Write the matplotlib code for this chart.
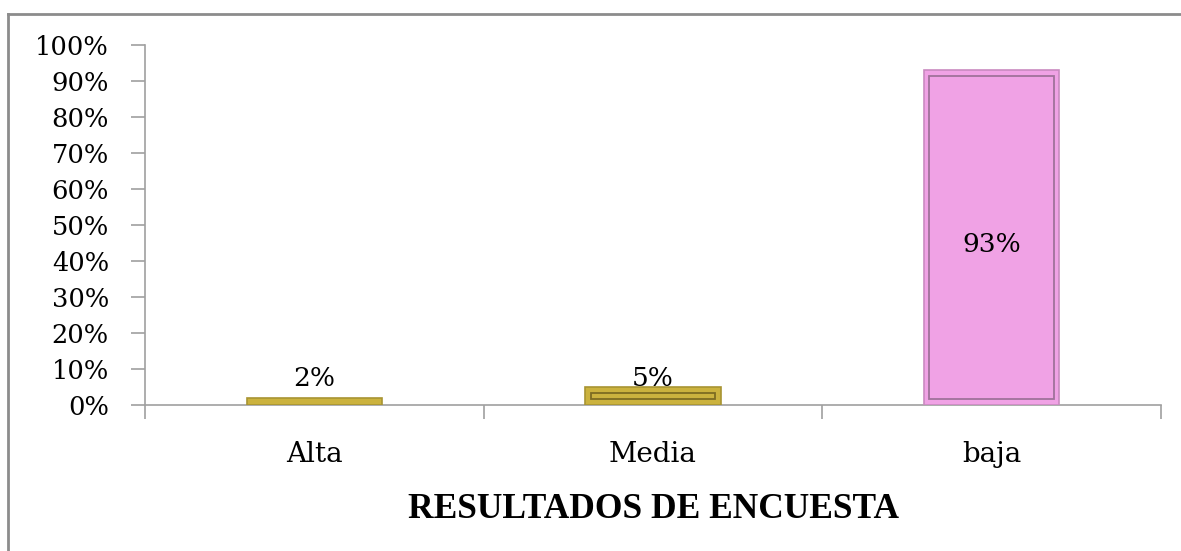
import matplotlib.pyplot as plt
from matplotlib.lines import Line2D

categories = ['Alta', 'Media', 'baja']
values = [0.02, 0.05, 0.93]
labels = ['2%', '5%', '93%']
fills = ['#CBB23E', '#CBB23E', '#F0A2E5']
edges = ['#A89432', '#A89432', '#C98AC0']
inner_edges = ['#7D6C22', '#7D6C22', '#A0729A']
yticks = [i / 10 for i in range(11)]

plt.rcParams['font.family'] = ['DejaVu Serif']

W, H = 1181, 551
fig = plt.figure(figsize=(W / 100, H / 100), dpi=100)
ax = fig.add_axes([145 / W, (H - 405) / H, 1016 / W, 360 / H])

x = range(len(categories))
bw = 0.40
ax.bar(x, values, width=bw, color=fills, edgecolor=edges, linewidth=1.2, zorder=3)

# inner outline, Excel style
dx, dy = 0.016, 0.017
for i, v in enumerate(values):
    if v > 2 * dy:
        ax.add_patch(plt.Rectangle((i - bw / 2 + dx, dy), bw - 2 * dx, v - 2 * dy,
                                   fill=False, edgecolor=inner_edges[i], linewidth=1.3, zorder=4))

for i, (v, t) in enumerate(zip(values, labels)):
    if v > 0.2:
        ax.text(i, v / 2 - 0.018, t, ha='center', va='center', fontsize=19, zorder=5)
    else:
        ax.text(i, 0.075, t, ha='center', va='center', fontsize=19, zorder=5)

ax.set_xlim(-0.5, 2.5)
ax.set_ylim(0, 1)
ax.set_yticks(yticks)
ax.set_yticklabels([f'{int(round(t * 100))}%' for t in yticks], fontsize=18.5)
ax.set_xticks([-0.5, 0.5, 1.5, 2.5])
ax.set_xticklabels([])
ax.set_xticks(list(x), minor=True)
ax.set_xticklabels(categories, minor=True, fontsize=20)
ax.tick_params(axis='x', which='minor', length=0, pad=26)
ax.tick_params(axis='x', which='major', length=10, color='#A0A0A0', width=1.2)
ax.tick_params(axis='y', length=10, color='#A0A0A0', width=1.2, pad=16)

for s in ['top', 'right']:
    ax.spines[s].set_visible(False)
for s in ['left', 'bottom']:
    ax.spines[s].set_color('#A0A0A0')
    ax.spines[s].set_linewidth(1.2)

ax.set_xlabel('RESULTADOS DE ENCUESTA', fontsize=25.5, fontweight='bold',
              family='Liberation Serif', labelpad=18)

# outer chart frame
fig.add_artist(Line2D([8 / W, 8 / W], [0, 1 - 14 / H], color='#8C8C8C', linewidth=2))
fig.add_artist(Line2D([8 / W, 1], [1 - 14 / H, 1 - 14 / H], color='#8C8C8C', linewidth=2))

fig.savefig('out.png', dpi=100)
